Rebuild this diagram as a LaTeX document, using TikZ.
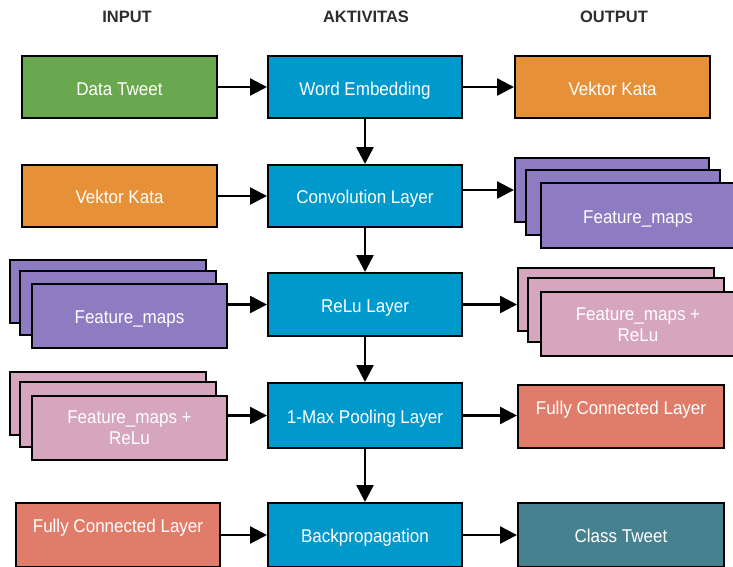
\documentclass[tikz,border=0pt]{standalone}
\usepackage{fontspec}
\setmainfont{Liberation Sans}
\newfontfamily\boxfont{Liberation Sans}[FakeStretch=0.92]
\usetikzlibrary{arrows.meta}
\definecolor{cgreen}{RGB}{106,168,79}
\definecolor{cblue}{RGB}{0,153,204}
\definecolor{corange}{RGB}{230,145,56}
\definecolor{cpurple}{RGB}{142,124,195}
\definecolor{cpink}{RGB}{213,166,189}
\definecolor{csalmon}{RGB}{224,125,106}
\definecolor{cteal}{RGB}{69,129,142}
\definecolor{chead}{RGB}{45,45,45}
\tikzset{
  box/.style={draw=black, line width=2pt, rectangle, inner sep=0pt},
  lbl/.style={text=white, align=center, inner sep=0pt,
    font=\boxfont\fontsize{18.5}{21}\selectfont},
  % one-line label placed by its baseline
  lbase/.style={lbl, anchor=base},
  head/.style={text=chead, font=\fontsize{16.5}{19}\selectfont\bfseries},
  conn/.style={line width=2.5pt, -{Triangle[length=17pt,width=17pt]}},
}
% rectangle given by its corners, named
\newcommand{\boxat}[6]{% name, x1, y1, x2, y2, fill
  \node[box, fill=#6, minimum width={(#4-#2)*1pt}, minimum height={(#5-#3)*1pt}]
    (#1) at ({(#2+#4)/2},{(#3+#5)/2}) {};}
\begin{document}
\begin{tikzpicture}[x=1pt,y=-1pt]
\useasboundingbox (0,0) rectangle (733,566);
\clip (0,0) rectangle (733,566);

% column headings
\node[head] (hin)  at (127,17) {INPUT};
\node[head] (hakt) at (366,17) {AKTIVITAS};
\node[head] (hout) at (614,17) {OUTPUT};

% row 1
\boxat{dt}{22}{56}{217}{118}{cgreen}
\boxat{we}{268}{56}{462}{118}{cblue}
\boxat{vkR}{515}{56}{710}{118}{corange}
\node[lbase] (dtt) at (119.5,95) {Data Tweet};
\node[lbase] (wet) at (365,95) {Word Embedding};
\node[lbase] (vkRt) at (612.5,95) {Vektor Kata};

% row 2
\boxat{vkL}{22}{165}{217}{227}{corange}
\boxat{cl}{268}{165}{462}{227}{cblue}
\boxat{fmRb}{515}{158}{709}{222}{cpurple}
\boxat{fmRm}{526}{170}{720}{235}{cpurple}
\boxat{fmRf}{541}{183}{745}{248}{cpurple}
\node[lbase] (vkLt) at (119.5,203) {Vektor Kata};
\node[lbase] (clt) at (365,203) {Convolution Layer};
\node[lbase] (fmRt) at (638,223) {Feature\_maps};

% row 3
\boxat{fmLb}{10}{260}{206}{323}{cpurple}
\boxat{fmLm}{20}{271}{216}{335}{cpurple}
\boxat{fmLf}{32}{284}{227}{348}{cpurple}
\boxat{rl}{268}{273}{462}{336}{cblue}
\boxat{frRb}{518}{268}{714}{331}{cpink}
\boxat{frRm}{528}{278}{724}{342}{cpink}
\boxat{frRf}{541}{292}{745}{356}{cpink}
\node[lbase] (fmLt) at (129.5,323) {Feature\_maps};
\node[lbase] (rlt) at (365,312) {ReLu Layer};
\node[lbl] (frRt) at (638,325) {Feature\_maps +\\ReLu};

% row 4
\boxat{frLb}{10}{372}{206}{435}{cpink}
\boxat{frLm}{20}{382}{216}{447}{cpink}
\boxat{frLf}{32}{396}{227}{460}{cpink}
\boxat{mp}{268}{383}{462}{448}{cblue}
\boxat{fcR}{518}{385}{724}{448}{csalmon}
\node[lbl] (frLt) at (129.5,428) {Feature\_maps +\\ReLu};
\node[lbase] (mpt) at (365,423) {1-Max Pooling Layer};
\node[lbase] (fcRt) at (621,414) {Fully Connected Layer};

% row 5
\boxat{fcL}{16}{503}{220}{567}{csalmon}
\boxat{bp}{268}{503}{462}{567}{cblue}
\boxat{ct}{518}{503}{724}{567}{cteal}
\node[lbase] (fcLt) at (118,532) {Fully Connected Layer};
\node[lbase] (bpt) at (365,542) {Backpropagation};
\node[lbase] (ctt) at (621,542) {Class Tweet};

% flow down the activity column
\draw[conn] (we.south) -- (cl.north);
\draw[conn] (cl.south) -- (rl.north);
\draw[conn] (rl.south) -- (mp.north);
\draw[conn] (mp.south) -- (bp.north);

% inputs and outputs
\draw[conn] (dt.east) -- (we.west);
\draw[conn] (we.east) -- (vkR.west);
\draw[conn] (vkL.east) -- (cl.west);
\draw[conn] (cl.east |- fmRb.west) -- (fmRb.west);
\draw[conn] (rl.west -| fmLf.east) -- (rl.west);
\draw[conn] (rl.east) -- (rl.east -| frRb.west);
\draw[conn] (mp.west -| frLf.east) -- (mp.west);
\draw[conn] (mp.east) -- (mp.east -| fcR.west);
\draw[conn] (fcL.east) -- (bp.west);
\draw[conn] (bp.east) -- (ct.west);
\end{tikzpicture}
\end{document}
